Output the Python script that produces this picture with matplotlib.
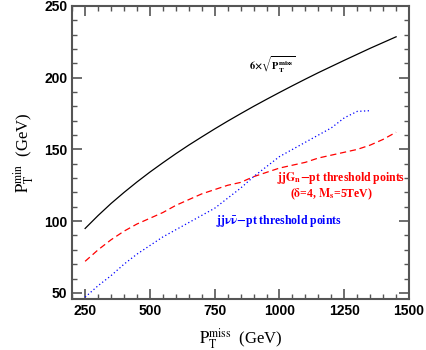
import matplotlib.pyplot as plt
from matplotlib.ticker import MultipleLocator

plt.rcParams['mathtext.fontset'] = 'stix'

# P_T^miss grid (GeV)
pt_miss = [250, 300, 350, 400, 450, 500, 550, 600, 650, 700, 750, 800, 850,
           900, 950, 1000, 1050, 1100, 1150, 1200, 1250, 1300, 1350, 1400, 1450]

# 6 x sqrt(P_T^miss) curve
sqrt_curve = [94.9, 103.9, 112.3, 120.0, 127.3, 134.2, 140.7, 147.0, 153.0,
              158.7, 164.3, 169.7, 174.9, 180.0, 184.9, 189.7, 194.4, 199.0,
              203.5, 207.8, 212.1, 216.3, 220.5, 224.5, 228.5]

# jjG_n - pt threshold points (red dashed)
red_pts = [72, 80, 87, 93, 98, 102, 106, 111, 115, 119, 122, 125, 127,
           131, 134, 137, 139, 141, 144, 146, 148, 150, 153, 157, 162]

# jj nu nubar - pt threshold points (blue dotted), ends at 1350
blue_x = pt_miss[:23]
blue_pts = [47, 55, 62, 70, 77, 83, 89, 94, 99, 104, 109, 116, 123,
            131, 138, 145, 150, 155, 160, 165, 172, 176.5, 177]

fig = plt.figure(figsize=(4.27, 3.5), dpi=100)
ax = fig.add_axes([0.169, 0.146, 0.789, 0.837])

ax.plot(pt_miss, sqrt_curve, color='black', lw=0.9)
ax.plot(pt_miss, red_pts, color='red', lw=0.9, ls=(0, (5, 3)))
ax.plot(blue_x, blue_pts, color='blue', lw=0.9, ls=(0, (1, 2)))

ax.set_xlim(200, 1500)
ax.set_ylim(45.8, 250)
ax.xaxis.set_major_locator(MultipleLocator(250))
ax.xaxis.set_minor_locator(MultipleLocator(50))
ax.yaxis.set_major_locator(MultipleLocator(50))
ax.yaxis.set_minor_locator(MultipleLocator(10))
ax.tick_params(which='both', direction='in', top=True, right=True, color='#555555')
ax.tick_params(which='major', length=7, width=1.2)
ax.tick_params(which='minor', length=3.5, width=1.0)
for lab in ax.get_xticklabels() + ax.get_yticklabels():
    lab.set_fontweight('bold')
    lab.set_fontsize(10)
    lab.set_family('Liberation Sans')
for s in ax.spines.values():
    s.set_color('#555555')
    s.set_linewidth(1.5)

serif = 'Liberation Serif'
ax.set_xlabel(r'$\mathrm{P_T^{miss}}$  (GeV)', fontsize=12, family=serif, labelpad=6)
ax.set_ylabel(r'$\mathrm{P_T^{min}}$  (GeV)', fontsize=12, family=serif, labelpad=6)

ax.text(972, 209, r'$\mathbf{6{\times}\sqrt{P_T^{miss}}}$', fontsize=7.5,
        color='black', ha='center', va='center')
ax.text(1485, 130.3, r'$\mathbf{jjG_n}$$\mathbf{-}$pt threshold points', fontsize=8.5,
        color='red', ha='right', va='center', family=serif, fontweight='bold')
ax.text(1199, 119.0, r'($\mathbf{\delta}$=4, $\mathbf{M_s}$=5TeV)', fontsize=8.5,
        color='red', ha='center', va='center', family=serif, fontweight='bold')
ax.text(998, 100.2, r'$\mathbf{jj\nu\bar{\nu}}$$\mathbf{-}$pt threshold points', fontsize=8.5,
        color='blue', ha='center', va='center', family=serif, fontweight='bold')

fig.savefig('out.png', dpi=100)
